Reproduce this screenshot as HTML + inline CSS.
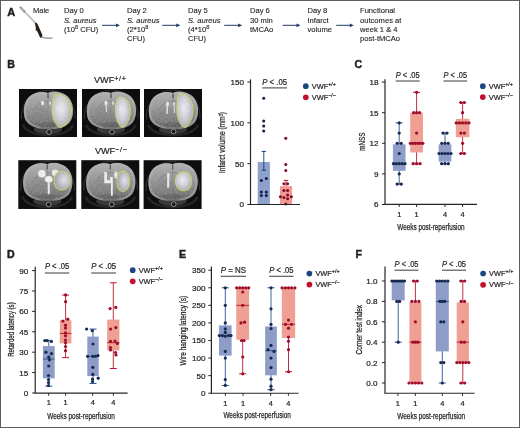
<!DOCTYPE html>
<html><head><meta charset="utf-8"><title>Figure</title>
<style>
html,body{margin:0;padding:0;background:#fff;}
body{width:520px;height:428px;overflow:hidden;}
.fig{position:relative;width:518px;height:426px;border:1px solid #5e5e5e;background:#fff;}
svg{position:absolute;left:-1px;top:-1px;filter:blur(0.3px);}
text{font-family:"Liberation Sans", sans-serif;}
.h{stroke:#231f20;stroke-width:0.22px;}
</style></head>
<body><div class="fig">
<svg width="520" height="428" viewBox="0 0 520 428" font-family="Liberation Sans, sans-serif">
<text x="7.2" y="16.3" font-size="11.0" font-weight="bold" fill="#231f20" stroke="#231f20" stroke-width="0.45">A</text>
<g>
<line x1="21" y1="8" x2="35.3" y2="22.8" stroke="#a8a8a8" stroke-width="1.7" stroke-linecap="round"/>
<line x1="22.6" y1="9.8" x2="34.6" y2="22.2" stroke="#ececec" stroke-width="0.6"/>
<line x1="20.5" y1="7.5" x2="24.5" y2="11.6" stroke="#9a9a9a" stroke-width="2.3" stroke-linecap="round"/>
<line x1="21.2" y1="8.2" x2="23.8" y2="10.9" stroke="#d0d0d0" stroke-width="0.8" stroke-linecap="round"/>
<path d="M35 22.8 L36.9 23 L38.7 26.5 L40.6 31 L42.4 35 L42 37.2 L40.2 37.8 L38.6 34.2 L37 30.8 L35.4 30.2 L36 28.6 L35.3 25.5 Z" fill="#2a1d17"/>
<path d="M41.6 37.1 Q45 38.6 52.5 38" stroke="#4a4a4a" stroke-width="0.8" fill="none"/>
</g>
<text x="33" y="13" font-size="7.5" fill="#231f20" stroke="#231f20" stroke-width="0.12">Male</text>
<text x="64" y="13" font-size="7.6" fill="#231f20" stroke="#231f20" stroke-width="0.12">Day 0</text>
<text x="64" y="22.6" font-size="7.6" fill="#231f20" stroke="#231f20" stroke-width="0.12"><tspan font-style="italic">S. aureus</tspan></text>
<text x="64" y="32.1" font-size="7.6" fill="#231f20" stroke="#231f20" stroke-width="0.12">(10<tspan dy="-3.2" font-size="5.6">8</tspan><tspan dy="3.2"> CFU)</tspan></text>
<text x="127" y="13" font-size="7.6" fill="#231f20" stroke="#231f20" stroke-width="0.12">Day 2</text>
<text x="127" y="22.6" font-size="7.6" fill="#231f20" stroke="#231f20" stroke-width="0.12"><tspan font-style="italic">S. aureus</tspan></text>
<text x="127" y="32.1" font-size="7.6" fill="#231f20" stroke="#231f20" stroke-width="0.12">(2*10<tspan dy="-3.2" font-size="5.6">8</tspan></text>
<text x="127" y="41.1" font-size="7.6" fill="#231f20" stroke="#231f20" stroke-width="0.12">CFU)</text>
<text x="188" y="13" font-size="7.6" fill="#231f20" stroke="#231f20" stroke-width="0.12">Day 5</text>
<text x="188" y="22.6" font-size="7.6" fill="#231f20" stroke="#231f20" stroke-width="0.12"><tspan font-style="italic">S. aureus</tspan></text>
<text x="188" y="32.1" font-size="7.6" fill="#231f20" stroke="#231f20" stroke-width="0.12">(4*10<tspan dy="-3.2" font-size="5.6">8</tspan></text>
<text x="188" y="41.1" font-size="7.6" fill="#231f20" stroke="#231f20" stroke-width="0.12">CFU)</text>
<text x="250" y="13" font-size="7.6" fill="#231f20" stroke="#231f20" stroke-width="0.12">Day 6</text>
<text x="250" y="22.6" font-size="7.6" fill="#231f20" stroke="#231f20" stroke-width="0.12">30 min</text>
<text x="250" y="32.1" font-size="7.6" fill="#231f20" stroke="#231f20" stroke-width="0.12">tMCAo</text>
<text x="307.5" y="13" font-size="7.6" fill="#231f20" stroke="#231f20" stroke-width="0.12">Day 8</text>
<text x="307.5" y="22.6" font-size="7.6" fill="#231f20" stroke="#231f20" stroke-width="0.12">Infarct</text>
<text x="307.5" y="32.1" font-size="7.6" fill="#231f20" stroke="#231f20" stroke-width="0.12">volume</text>
<text x="360" y="13" font-size="7.6" fill="#231f20" stroke="#231f20" stroke-width="0.12">Functional</text>
<text x="360" y="22.6" font-size="7.6" fill="#231f20" stroke="#231f20" stroke-width="0.12">outcomes at</text>
<text x="360" y="32.1" font-size="7.6" fill="#231f20" stroke="#231f20" stroke-width="0.12">week 1 &amp; 4</text>
<text x="360" y="41.1" font-size="7.6" fill="#231f20" stroke="#231f20" stroke-width="0.12">post-tMCAo</text>
<line x1="102" y1="25.3" x2="117" y2="25.3" stroke="#1f3a64" stroke-width="1"/>
<path d="M120 25.3 L116 23.4 L116 27.2 Z" fill="#1f3a64"/>
<line x1="162.3" y1="25.3" x2="177.3" y2="25.3" stroke="#1f3a64" stroke-width="1"/>
<path d="M180.3 25.3 L176.3 23.4 L176.3 27.2 Z" fill="#1f3a64"/>
<line x1="224.2" y1="25.3" x2="239.2" y2="25.3" stroke="#1f3a64" stroke-width="1"/>
<path d="M242.2 25.3 L238.2 23.4 L238.2 27.2 Z" fill="#1f3a64"/>
<line x1="282.7" y1="25.3" x2="297.5" y2="25.3" stroke="#1f3a64" stroke-width="1"/>
<path d="M300.5 25.3 L296.5 23.4 L296.5 27.2 Z" fill="#1f3a64"/>
<line x1="336.2" y1="25.3" x2="350.8" y2="25.3" stroke="#1f3a64" stroke-width="1"/>
<path d="M353.8 25.3 L349.8 23.4 L349.8 27.2 Z" fill="#1f3a64"/>
<text x="7.2" y="67.8" font-size="10.6" font-weight="bold" fill="#231f20" stroke="#231f20" stroke-width="0.45">B</text>
<text x="94" y="83.1" font-size="9.1" fill="#231f20" class="h">VWF<tspan dy="-2.5" font-size="7" letter-spacing="0.75">+/+</tspan></text>
<text x="94.9" y="154.3" font-size="9.1" fill="#231f20" class="h">VWF<tspan dy="-2.5" font-size="7" letter-spacing="0.75">&#8722;/&#8722;</tspan></text>
<defs><clipPath id="bclip"><path d="M29 4 C33 2 44 2 50 9 C55 15 55.5 26 51 33 C47 38 40 40 33 40 L26 40 C18 40 10 37 6.5 31 C3.5 24 4.5 13 10 8 C15 3 24 2 29 4 Z"/></clipPath><filter id="nz" x="0" y="0" width="1" height="1"><feTurbulence type="fractalNoise" baseFrequency="0.55" numOctaves="2" seed="3" result="t"/><feColorMatrix in="t" type="matrix" values="0 0 0 0 0.5  0 0 0 0 0.5  0 0 0 0 0.5  0.9 0 0 0 -0.25" result="n"/><feComposite in="n" in2="SourceGraphic" operator="in"/></filter><linearGradient id="bgrad" x1="0" y1="0" x2="0" y2="1"><stop offset="0" stop-color="#b0b0b0"/><stop offset="0.45" stop-color="#949494"/><stop offset="0.82" stop-color="#747474"/><stop offset="1" stop-color="#4a4a4a"/></linearGradient><radialGradient id="kgrad" cx="0.62" cy="0.45" r="0.6"><stop offset="0" stop-color="#e8e8ee"/><stop offset="0.45" stop-color="#c8c8d2"/><stop offset="1" stop-color="#a0a0aa"/></radialGradient><radialGradient id="lgrad" cx="0.45" cy="0.42" r="0.6"><stop offset="0" stop-color="#f0f0f4"/><stop offset="0.5" stop-color="#d4d4de"/><stop offset="1" stop-color="#a8a8b4"/></radialGradient></defs>
<g transform="translate(19,89) scale(1,1)">
<rect x="0" y="0" width="58" height="48" fill="#0e0e0e"/>
<path d="M2.5 30 C1 16 12 1.5 29 1.2 C46 1.5 57 14 56 30" fill="none" stroke="#333" stroke-width="1"/>
<path d="M4 36 C8 44 18 46 29 46 C40 46 50 44 54 36" fill="none" stroke="#262626" stroke-width="2.5"/>
<ellipse cx="29" cy="40.5" rx="14" ry="4.5" fill="#3a3a3a"/>
<path d="M29 4 C33 2 44 2 50 9 C55 15 55.5 26 51 33 C47 38 40 40 33 40 L26 40 C18 40 10 37 6.5 31 C3.5 24 4.5 13 10 8 C15 3 24 2 29 4 Z" fill="url(#bgrad)"/>
<g clip-path="url(#bclip)"><path d="M29 4 C33 2 44 2 50 9 C55 15 55.5 26 51 33 C47 38 40 40 33 40 L26 40 C18 40 10 37 6.5 31 C3.5 24 4.5 13 10 8 C15 3 24 2 29 4 Z" fill="none" stroke="#b4b4b4" stroke-width="4.5" opacity="0.5"/></g>
<path d="M29 4.5 L29 9" stroke="#333" stroke-width="1.2"/>
<path d="M14 22 C18 15 24 12 29 12 C34 12 40 15 44 22" fill="none" stroke="#6e6e6e" stroke-width="1" opacity="0.6"/>
<path d="M29 5 L29 38" stroke="#7c7c7c" stroke-width="0.8" opacity="0.7"/>
<ellipse cx="22" cy="26" rx="7" ry="9" fill="#7e7e7e" opacity="0.35"/>
<ellipse cx="29" cy="36.5" rx="9" ry="3.5" fill="#5a5a5a" opacity="0.6"/>
<ellipse cx="23.5" cy="14" rx="1.5" ry="2.3" fill="#efefef"/>
<ellipse cx="31" cy="14" rx="1.1" ry="2" fill="#dadada"/>
<path d="M36 6 C44 4 51 10 52.5 20 C53 28 49 35 42 38.5 C37 37.5 33.5 30 33 22 C33 14 34 8 36 6 Z" fill="url(#lgrad)"/>
<path d="M36 6 C44 4 51 10 52.5 20 C53 28 49 35 42 38.5 C37 37.5 33.5 30 33 22 C33 14 34 8 36 6 Z" fill="none" stroke="#e2e83e" stroke-width="1.1" stroke-dasharray="1.2 0.45" opacity="0.9"/>
<path d="M38 10 C44 9 49 14 49.5 21 C49.5 28 46 33 41.5 35 C38 33 36 28 36 21 C36 15 36.5 11 38 10 Z" fill="none" stroke="#d8e048" stroke-width="0.6" stroke-dasharray="0.9 0.7" opacity="0.8"/>
<circle cx="30" cy="43" r="2.4" fill="#1a1a1a" stroke="#a8a8a8" stroke-width="0.8"/>
<g clip-path="url(#bclip)"><rect x="0" y="0" width="58" height="48" fill="#808080" filter="url(#nz)" opacity="0.6"/></g>
</g>
<g transform="translate(82,89) scale(1,1)">
<rect x="0" y="0" width="58" height="48" fill="#0e0e0e"/>
<path d="M2.5 30 C1 16 12 1.5 29 1.2 C46 1.5 57 14 56 30" fill="none" stroke="#333" stroke-width="1"/>
<path d="M4 36 C8 44 18 46 29 46 C40 46 50 44 54 36" fill="none" stroke="#262626" stroke-width="2.5"/>
<ellipse cx="29" cy="40.5" rx="14" ry="4.5" fill="#3a3a3a"/>
<path d="M29 4 C33 2 44 2 50 9 C55 15 55.5 26 51 33 C47 38 40 40 33 40 L26 40 C18 40 10 37 6.5 31 C3.5 24 4.5 13 10 8 C15 3 24 2 29 4 Z" fill="url(#bgrad)"/>
<g clip-path="url(#bclip)"><path d="M29 4 C33 2 44 2 50 9 C55 15 55.5 26 51 33 C47 38 40 40 33 40 L26 40 C18 40 10 37 6.5 31 C3.5 24 4.5 13 10 8 C15 3 24 2 29 4 Z" fill="none" stroke="#b4b4b4" stroke-width="4.5" opacity="0.5"/></g>
<path d="M29 4.5 L29 9" stroke="#333" stroke-width="1.2"/>
<path d="M14 22 C18 15 24 12 29 12 C34 12 40 15 44 22" fill="none" stroke="#6e6e6e" stroke-width="1" opacity="0.6"/>
<path d="M29 5 L29 38" stroke="#7c7c7c" stroke-width="0.8" opacity="0.7"/>
<ellipse cx="22" cy="26" rx="7" ry="9" fill="#7e7e7e" opacity="0.35"/>
<ellipse cx="29" cy="36.5" rx="9" ry="3.5" fill="#5a5a5a" opacity="0.6"/>
<ellipse cx="24" cy="14" rx="1.5" ry="2.3" fill="#efefef"/>
<ellipse cx="31" cy="14" rx="1.1" ry="2" fill="#dadada"/>
<path d="M24 15 L24.5 23" stroke="#dedede" stroke-width="1.3"/>
<path d="M37 8.5 C43 7 48.5 13 48.5 22 C48.5 30 45 36 40.5 38.5 C36.5 36.5 33.5 30 33.4 22 C33.4 15 34.5 10 37 8.5 Z" fill="url(#lgrad)"/>
<path d="M37 8.5 C43 7 48.5 13 48.5 22 C48.5 30 45 36 40.5 38.5 C36.5 36.5 33.5 30 33.4 22 C33.4 15 34.5 10 37 8.5 Z" fill="none" stroke="#e2e83e" stroke-width="1.1" stroke-dasharray="1.2 0.45" opacity="0.9"/>
<circle cx="30" cy="43" r="2.4" fill="#1a1a1a" stroke="#a8a8a8" stroke-width="0.8"/>
<g clip-path="url(#bclip)"><rect x="0" y="0" width="58" height="48" fill="#808080" filter="url(#nz)" opacity="0.6"/></g>
</g>
<g transform="translate(144,89) scale(1,1)">
<rect x="0" y="0" width="58" height="48" fill="#0e0e0e"/>
<path d="M2.5 30 C1 16 12 1.5 29 1.2 C46 1.5 57 14 56 30" fill="none" stroke="#333" stroke-width="1"/>
<path d="M4 36 C8 44 18 46 29 46 C40 46 50 44 54 36" fill="none" stroke="#262626" stroke-width="2.5"/>
<ellipse cx="29" cy="40.5" rx="14" ry="4.5" fill="#3a3a3a"/>
<path d="M29 4 C33 2 44 2 50 9 C55 15 55.5 26 51 33 C47 38 40 40 33 40 L26 40 C18 40 10 37 6.5 31 C3.5 24 4.5 13 10 8 C15 3 24 2 29 4 Z" fill="url(#bgrad)"/>
<g clip-path="url(#bclip)"><path d="M29 4 C33 2 44 2 50 9 C55 15 55.5 26 51 33 C47 38 40 40 33 40 L26 40 C18 40 10 37 6.5 31 C3.5 24 4.5 13 10 8 C15 3 24 2 29 4 Z" fill="none" stroke="#b4b4b4" stroke-width="4.5" opacity="0.5"/></g>
<path d="M29 4.5 L29 9" stroke="#333" stroke-width="1.2"/>
<path d="M14 22 C18 15 24 12 29 12 C34 12 40 15 44 22" fill="none" stroke="#6e6e6e" stroke-width="1" opacity="0.6"/>
<path d="M29 5 L29 38" stroke="#7c7c7c" stroke-width="0.8" opacity="0.7"/>
<ellipse cx="22" cy="26" rx="7" ry="9" fill="#7e7e7e" opacity="0.35"/>
<ellipse cx="29" cy="36.5" rx="9" ry="3.5" fill="#5a5a5a" opacity="0.6"/>
<ellipse cx="23.5" cy="15" rx="1.5" ry="2.3" fill="#efefef"/>
<ellipse cx="30" cy="15" rx="1.1" ry="2" fill="#dadada"/>
<path d="M23.5 14 L23 25" stroke="#e6e6e6" stroke-width="1.5"/>
<path d="M30 14 L30.5 24" stroke="#d8d8d8" stroke-width="1.2"/>
<path d="M35 5 C42 4 48.5 10 49 19 C49.5 28 46 35 41 38.5 C36.5 37 33 30 32.8 21 C32.8 13 33.5 7 35 5 Z" fill="url(#lgrad)"/>
<path d="M35 5 C42 4 48.5 10 49 19 C49.5 28 46 35 41 38.5 C36.5 37 33 30 32.8 21 C32.8 13 33.5 7 35 5 Z" fill="none" stroke="#e2e83e" stroke-width="1.1" stroke-dasharray="1.2 0.45" opacity="0.9"/>
<circle cx="29.5" cy="42.5" r="2.4" fill="#1a1a1a" stroke="#a8a8a8" stroke-width="0.8"/>
<g clip-path="url(#bclip)"><rect x="0" y="0" width="58" height="48" fill="#808080" filter="url(#nz)" opacity="0.6"/></g>
</g>
<g transform="translate(18.3,160.2) scale(1,1.016)">
<rect x="0" y="0" width="58" height="48" fill="#0e0e0e"/>
<path d="M2.5 30 C1 16 12 1.5 29 1.2 C46 1.5 57 14 56 30" fill="none" stroke="#333" stroke-width="1"/>
<path d="M4 36 C8 44 18 46 29 46 C40 46 50 44 54 36" fill="none" stroke="#262626" stroke-width="2.5"/>
<ellipse cx="29" cy="40.5" rx="14" ry="4.5" fill="#3a3a3a"/>
<path d="M29 4 C33 2 44 2 50 9 C55 15 55.5 26 51 33 C47 38 40 40 33 40 L26 40 C18 40 10 37 6.5 31 C3.5 24 4.5 13 10 8 C15 3 24 2 29 4 Z" fill="url(#bgrad)"/>
<g clip-path="url(#bclip)"><path d="M29 4 C33 2 44 2 50 9 C55 15 55.5 26 51 33 C47 38 40 40 33 40 L26 40 C18 40 10 37 6.5 31 C3.5 24 4.5 13 10 8 C15 3 24 2 29 4 Z" fill="none" stroke="#b4b4b4" stroke-width="4.5" opacity="0.5"/></g>
<path d="M29 4.5 L29 9" stroke="#333" stroke-width="1.2"/>
<path d="M14 22 C18 15 24 12 29 12 C34 12 40 15 44 22" fill="none" stroke="#6e6e6e" stroke-width="1" opacity="0.6"/>
<path d="M29 5 L29 38" stroke="#7c7c7c" stroke-width="0.8" opacity="0.7"/>
<ellipse cx="22" cy="26" rx="7" ry="9" fill="#7e7e7e" opacity="0.35"/>
<ellipse cx="29" cy="36.5" rx="9" ry="3.5" fill="#5a5a5a" opacity="0.6"/>
<circle cx="23.6" cy="13.3" r="3.7" fill="#f6f6f6"/>
<circle cx="36.8" cy="12.3" r="3.2" fill="#efefef"/>
<ellipse cx="30.4" cy="18.8" rx="3.8" ry="3.2" fill="#f8f8f8"/>
<rect x="29.4" y="20" width="2.1" height="13.5" fill="#eeeeee"/>
<path d="M42 11 C48 10 52 14.5 52 20 C52 26 48 29.5 43 29.4 C38 29 35.8 25 35.8 20 C35.8 15 38 11.5 42 11 Z" fill="url(#kgrad)"/>
<path d="M42 11 C48 10 52 14.5 52 20 C52 26 48 29.5 43 29.4 C38 29 35.8 25 35.8 20 C35.8 15 38 11.5 42 11 Z" fill="none" stroke="#e2e83e" stroke-width="1.1" stroke-dasharray="1.2 0.45" opacity="0.9"/>
<circle cx="30.4" cy="43.5" r="2.4" fill="#1a1a1a" stroke="#a8a8a8" stroke-width="0.8"/>
<g clip-path="url(#bclip)"><rect x="0" y="0" width="58" height="48" fill="#808080" filter="url(#nz)" opacity="0.6"/></g>
</g>
<g transform="translate(81.3,160.2) scale(1,1.016)">
<rect x="0" y="0" width="58" height="48" fill="#0e0e0e"/>
<path d="M2.5 30 C1 16 12 1.5 29 1.2 C46 1.5 57 14 56 30" fill="none" stroke="#333" stroke-width="1"/>
<path d="M4 36 C8 44 18 46 29 46 C40 46 50 44 54 36" fill="none" stroke="#262626" stroke-width="2.5"/>
<ellipse cx="29" cy="40.5" rx="14" ry="4.5" fill="#3a3a3a"/>
<path d="M29 4 C33 2 44 2 50 9 C55 15 55.5 26 51 33 C47 38 40 40 33 40 L26 40 C18 40 10 37 6.5 31 C3.5 24 4.5 13 10 8 C15 3 24 2 29 4 Z" fill="url(#bgrad)"/>
<g clip-path="url(#bclip)"><path d="M29 4 C33 2 44 2 50 9 C55 15 55.5 26 51 33 C47 38 40 40 33 40 L26 40 C18 40 10 37 6.5 31 C3.5 24 4.5 13 10 8 C15 3 24 2 29 4 Z" fill="none" stroke="#b4b4b4" stroke-width="4.5" opacity="0.5"/></g>
<path d="M29 4.5 L29 9" stroke="#333" stroke-width="1.2"/>
<path d="M14 22 C18 15 24 12 29 12 C34 12 40 15 44 22" fill="none" stroke="#6e6e6e" stroke-width="1" opacity="0.6"/>
<path d="M29 5 L29 38" stroke="#7c7c7c" stroke-width="0.8" opacity="0.7"/>
<ellipse cx="22" cy="26" rx="7" ry="9" fill="#7e7e7e" opacity="0.35"/>
<ellipse cx="29" cy="36.5" rx="9" ry="3.5" fill="#5a5a5a" opacity="0.6"/>
<path d="M23 11.5 L25.6 11.5 L25.6 19.5 L28.5 20 L29 16.5 L31.5 16.5 L31.5 35 L29.6 35 L29.6 22.8 L23 22.8 Z" fill="#f4f4f4"/>
<ellipse cx="34.6" cy="14.5" rx="1.8" ry="3.4" fill="#e8e8e8"/>
<path d="M41.5 11 C46 11 48.2 15 48.2 21 C48.2 27 45 30.8 41.5 30.8 C37.8 30.8 35.5 26.5 35.5 21 C35.5 15 37.5 11 41.5 11 Z" fill="url(#kgrad)"/>
<path d="M41.5 11 C46 11 48.2 15 48.2 21 C48.2 27 45 30.8 41.5 30.8 C37.8 30.8 35.5 26.5 35.5 21 C35.5 15 37.5 11 41.5 11 Z" fill="none" stroke="#e2e83e" stroke-width="1.1" stroke-dasharray="1.2 0.45" opacity="0.9"/>
<circle cx="30.4" cy="43.5" r="2.4" fill="#1a1a1a" stroke="#a8a8a8" stroke-width="0.8"/>
<g clip-path="url(#bclip)"><rect x="0" y="0" width="58" height="48" fill="#808080" filter="url(#nz)" opacity="0.6"/></g>
</g>
<g transform="translate(143.6,160.2) scale(1,1.016)">
<rect x="0" y="0" width="58" height="48" fill="#0e0e0e"/>
<path d="M2.5 30 C1 16 12 1.5 29 1.2 C46 1.5 57 14 56 30" fill="none" stroke="#333" stroke-width="1"/>
<path d="M4 36 C8 44 18 46 29 46 C40 46 50 44 54 36" fill="none" stroke="#262626" stroke-width="2.5"/>
<ellipse cx="29" cy="40.5" rx="14" ry="4.5" fill="#3a3a3a"/>
<path d="M29 4 C33 2 44 2 50 9 C55 15 55.5 26 51 33 C47 38 40 40 33 40 L26 40 C18 40 10 37 6.5 31 C3.5 24 4.5 13 10 8 C15 3 24 2 29 4 Z" fill="url(#bgrad)"/>
<g clip-path="url(#bclip)"><path d="M29 4 C33 2 44 2 50 9 C55 15 55.5 26 51 33 C47 38 40 40 33 40 L26 40 C18 40 10 37 6.5 31 C3.5 24 4.5 13 10 8 C15 3 24 2 29 4 Z" fill="none" stroke="#b4b4b4" stroke-width="4.5" opacity="0.5"/></g>
<path d="M29 4.5 L29 9" stroke="#333" stroke-width="1.2"/>
<path d="M14 22 C18 15 24 12 29 12 C34 12 40 15 44 22" fill="none" stroke="#6e6e6e" stroke-width="1" opacity="0.6"/>
<path d="M29 5 L29 38" stroke="#7c7c7c" stroke-width="0.8" opacity="0.7"/>
<ellipse cx="22" cy="26" rx="7" ry="9" fill="#7e7e7e" opacity="0.35"/>
<ellipse cx="29" cy="36.5" rx="9" ry="3.5" fill="#5a5a5a" opacity="0.6"/>
<path d="M23.5 12.5 L26 12.5 L25.5 27 L23.5 27 Z" fill="#ebebeb"/>
<path d="M40 11.5 C45 11.5 48 15 48 21 C48 26.5 45 30 40 30 C35 30 31.9 26 31.9 21 C31.9 15.5 35 11.5 40 11.5 Z" fill="url(#lgrad)"/>
<path d="M40 11.5 C45 11.5 48 15 48 21 C48 26.5 45 30 40 30 C35 30 31.9 26 31.9 21 C31.9 15.5 35 11.5 40 11.5 Z" fill="none" stroke="#e2e83e" stroke-width="1.1" stroke-dasharray="1.2 0.45" opacity="0.9"/>
<circle cx="30.1" cy="43.3" r="2.4" fill="#1a1a1a" stroke="#a8a8a8" stroke-width="0.8"/>
<g clip-path="url(#bclip)"><rect x="0" y="0" width="58" height="48" fill="#808080" filter="url(#nz)" opacity="0.6"/></g>
</g>
<text transform="translate(225.2,142.5) rotate(-90)" x="0" y="0" font-size="8.6" text-anchor="middle" textLength="61" lengthAdjust="spacingAndGlyphs" fill="#231f20" stroke="#231f20" stroke-width="0.25">Infarct volume (mm<tspan dy="-2.5" font-size="5">3</tspan><tspan dy="2.5">)</tspan></text>
<line x1="250.5" y1="79.3" x2="250.5" y2="204.5" stroke="#262626" stroke-width="1.2"/>
<line x1="247.4" y1="82.0" x2="250.5" y2="82.0" stroke="#262626" stroke-width="1"/>
<text x="244" y="84.9" font-size="8.1" text-anchor="end" fill="#231f20" class="h">150</text>
<line x1="247.4" y1="122.83333333333333" x2="250.5" y2="122.83333333333333" stroke="#262626" stroke-width="1"/>
<text x="244" y="125.73333333333333" font-size="8.1" text-anchor="end" fill="#231f20" class="h">100</text>
<line x1="247.4" y1="163.66666666666666" x2="250.5" y2="163.66666666666666" stroke="#262626" stroke-width="1"/>
<text x="244" y="166.56666666666666" font-size="8.1" text-anchor="end" fill="#231f20" class="h">50</text>
<line x1="247.4" y1="204.5" x2="250.5" y2="204.5" stroke="#262626" stroke-width="1"/>
<text x="244" y="207.4" font-size="8.1" text-anchor="end" fill="#231f20" class="h">0</text>
<text class="h" x="262.3" y="84.6" font-size="8.4" textLength="24.69999999999999" lengthAdjust="spacingAndGlyphs" fill="#231f20"><tspan font-style="italic">P</tspan> &lt; .05</text>
<line x1="262.3" y1="87.9" x2="287" y2="87.9" stroke="#5a5a5a" stroke-width="1.2"/>
<rect x="257.7" y="162.03333333333333" width="12.2" height="42.46666666666667" fill="#8ea0cc"/>
<rect x="280" y="186.125" width="12.1" height="18.375" fill="#f19a94"/>
<line x1="263.8" y1="162.03333333333333" x2="263.8" y2="151.41666666666666" stroke="#173f75" stroke-width="0.9"/>
<line x1="261.6" y1="151.41666666666666" x2="266" y2="151.41666666666666" stroke="#173f75" stroke-width="1"/>
<line x1="263.8" y1="162.03333333333333" x2="263.8" y2="170.2" stroke="#173f75" stroke-width="0.9"/>
<line x1="261.6" y1="170.2" x2="266" y2="170.2" stroke="#173f75" stroke-width="1"/>
<line x1="286" y1="186.125" x2="286" y2="180.40833333333333" stroke="#b8102a" stroke-width="0.9"/>
<line x1="283.8" y1="180.40833333333333" x2="288.2" y2="180.40833333333333" stroke="#b8102a" stroke-width="1"/>
<circle cx="263.70" cy="98.30" r="1.5" fill="#131d40"/>
<circle cx="263.70" cy="121.10" r="1.5" fill="#131d40"/>
<circle cx="263.70" cy="126.00" r="1.5" fill="#131d40"/>
<circle cx="263.70" cy="131.10" r="1.5" fill="#131d40"/>
<circle cx="261.40" cy="180.40" r="1.5" fill="#131d40"/>
<circle cx="266.40" cy="178.60" r="1.5" fill="#131d40"/>
<circle cx="261.30" cy="192.10" r="1.5" fill="#131d40"/>
<circle cx="266.30" cy="192.10" r="1.5" fill="#131d40"/>
<circle cx="261.30" cy="195.60" r="1.5" fill="#131d40"/>
<circle cx="266.30" cy="195.60" r="1.5" fill="#131d40"/>
<circle cx="285.80" cy="138.30" r="1.5" fill="#7a0c24"/>
<circle cx="285.80" cy="164.50" r="1.5" fill="#7a0c24"/>
<circle cx="285.80" cy="170.50" r="1.5" fill="#7a0c24"/>
<circle cx="283.90" cy="183.70" r="1.5" fill="#7a0c24"/>
<circle cx="287.60" cy="183.70" r="1.5" fill="#7a0c24"/>
<circle cx="283.90" cy="190.60" r="1.5" fill="#7a0c24"/>
<circle cx="287.60" cy="190.60" r="1.5" fill="#7a0c24"/>
<circle cx="280.40" cy="196.80" r="1.5" fill="#7a0c24"/>
<circle cx="283.90" cy="197.60" r="1.5" fill="#7a0c24"/>
<circle cx="287.60" cy="195.10" r="1.5" fill="#7a0c24"/>
<circle cx="287.60" cy="198.80" r="1.5" fill="#7a0c24"/>
<circle cx="291.30" cy="196.80" r="1.5" fill="#7a0c24"/>
<circle cx="285.80" cy="204.00" r="1.5" fill="#7a0c24"/>
<line x1="249.9" y1="204.5" x2="300" y2="204.5" stroke="#262626" stroke-width="1.2"/>
<circle cx="305.80" cy="86.20" r="2.85" fill="#1c4680"/>
<circle cx="305.80" cy="97.30" r="2.85" fill="#c2102e"/>
<text x="311.8" y="88.7" font-size="7.4" fill="#231f20" class="h">VWF<tspan dy="-2.8" font-size="5.4">+/+</tspan></text>
<text x="311.8" y="99.8" font-size="7.4" fill="#231f20" class="h">VWF<tspan dy="-2.8" font-size="5.4">&#8722;/&#8722;</tspan></text>
<text x="354.4" y="68.2" font-size="10.6" font-weight="bold" fill="#231f20" stroke="#231f20" stroke-width="0.45">C</text>
<text transform="translate(364.9,141.7) rotate(-90)" x="0" y="0" font-size="9.6" text-anchor="middle" textLength="18.3" lengthAdjust="spacingAndGlyphs" fill="#231f20" stroke="#231f20" stroke-width="0.25">mNSS</text>
<line x1="385" y1="79.3" x2="385" y2="204.5" stroke="#262626" stroke-width="1.2"/>
<line x1="381.9" y1="82.10000000000001" x2="385" y2="82.10000000000001" stroke="#262626" stroke-width="1"/>
<text x="378.6" y="85.00000000000001" font-size="8.1" text-anchor="end" fill="#231f20" class="h">18</text>
<line x1="381.9" y1="112.7" x2="385" y2="112.7" stroke="#262626" stroke-width="1"/>
<text x="378.6" y="115.60000000000001" font-size="8.1" text-anchor="end" fill="#231f20" class="h">15</text>
<line x1="381.9" y1="143.3" x2="385" y2="143.3" stroke="#262626" stroke-width="1"/>
<text x="378.6" y="146.20000000000002" font-size="8.1" text-anchor="end" fill="#231f20" class="h">12</text>
<line x1="381.9" y1="173.9" x2="385" y2="173.9" stroke="#262626" stroke-width="1"/>
<text x="378.6" y="176.8" font-size="8.1" text-anchor="end" fill="#231f20" class="h">9</text>
<line x1="381.9" y1="204.5" x2="385" y2="204.5" stroke="#262626" stroke-width="1"/>
<text x="378.6" y="207.4" font-size="8.1" text-anchor="end" fill="#231f20" class="h">6</text>
<text class="h" x="395.7" y="77.5" font-size="8.4" textLength="24.0" lengthAdjust="spacingAndGlyphs" fill="#231f20"><tspan font-style="italic">P</tspan> &lt; .05</text>
<line x1="395.7" y1="81" x2="419.7" y2="81" stroke="#5a5a5a" stroke-width="1.2"/>
<text class="h" x="443.5" y="77.5" font-size="8.4" textLength="23.5" lengthAdjust="spacingAndGlyphs" fill="#231f20"><tspan font-style="italic">P</tspan> &lt; .05</text>
<line x1="443.5" y1="81" x2="467" y2="81" stroke="#5a5a5a" stroke-width="1.2"/>
<line x1="399.2" y1="122.9" x2="399.2" y2="184.1" stroke="#2a5590" stroke-width="0.9"/>
<line x1="395.7" y1="122.9" x2="402.7" y2="122.9" stroke="#2a5590" stroke-width="1"/>
<line x1="395.7" y1="184.1" x2="402.7" y2="184.1" stroke="#2a5590" stroke-width="1"/>
<rect x="392.9" y="144.32" width="12.6" height="26.52000000000001" fill="#8e9cc8"/>
<line x1="392.9" y1="163.7" x2="405.5" y2="163.7" stroke="#2a5590" stroke-width="0.9"/>
<circle cx="399.20" cy="122.90" r="1.6" fill="#162a52"/>
<circle cx="399.20" cy="133.10" r="1.6" fill="#162a52"/>
<circle cx="397.20" cy="143.30" r="1.6" fill="#162a52"/>
<circle cx="401.20" cy="143.30" r="1.6" fill="#162a52"/>
<circle cx="399.20" cy="153.50" r="1.6" fill="#162a52"/>
<circle cx="393.40" cy="163.70" r="1.6" fill="#162a52"/>
<circle cx="396.30" cy="163.70" r="1.6" fill="#162a52"/>
<circle cx="399.20" cy="163.70" r="1.6" fill="#162a52"/>
<circle cx="402.10" cy="163.70" r="1.6" fill="#162a52"/>
<circle cx="405.00" cy="163.70" r="1.6" fill="#162a52"/>
<circle cx="399.20" cy="173.90" r="1.6" fill="#162a52"/>
<circle cx="397.20" cy="184.10" r="1.6" fill="#162a52"/>
<circle cx="401.20" cy="184.10" r="1.6" fill="#162a52"/>
<line x1="416.6" y1="92.30000000000001" x2="416.6" y2="163.7" stroke="#c0152f" stroke-width="0.9"/>
<line x1="413.1" y1="92.30000000000001" x2="420.1" y2="92.30000000000001" stroke="#c0152f" stroke-width="1"/>
<line x1="413.1" y1="163.7" x2="420.1" y2="163.7" stroke="#c0152f" stroke-width="1"/>
<rect x="410.20000000000005" y="112.7" width="12.8" height="39.780000000000015" fill="#f0a092"/>
<line x1="410.20000000000005" y1="143.3" x2="423.0" y2="143.3" stroke="#c0152f" stroke-width="0.9"/>
<circle cx="416.60" cy="92.30" r="1.6" fill="#9c0e2c"/>
<circle cx="413.60" cy="112.70" r="1.6" fill="#9c0e2c"/>
<circle cx="416.60" cy="112.70" r="1.6" fill="#9c0e2c"/>
<circle cx="419.60" cy="112.70" r="1.6" fill="#9c0e2c"/>
<circle cx="416.60" cy="133.10" r="1.6" fill="#9c0e2c"/>
<circle cx="410.35" cy="143.30" r="1.6" fill="#9c0e2c"/>
<circle cx="412.85" cy="143.30" r="1.6" fill="#9c0e2c"/>
<circle cx="415.35" cy="143.30" r="1.6" fill="#9c0e2c"/>
<circle cx="417.85" cy="143.30" r="1.6" fill="#9c0e2c"/>
<circle cx="420.35" cy="143.30" r="1.6" fill="#9c0e2c"/>
<circle cx="422.85" cy="143.30" r="1.6" fill="#9c0e2c"/>
<circle cx="413.10" cy="163.70" r="1.6" fill="#9c0e2c"/>
<circle cx="416.60" cy="163.70" r="1.6" fill="#9c0e2c"/>
<circle cx="420.10" cy="163.70" r="1.6" fill="#9c0e2c"/>
<line x1="445" y1="133.10000000000002" x2="445" y2="163.7" stroke="#2a5590" stroke-width="0.9"/>
<line x1="441.5" y1="133.10000000000002" x2="448.5" y2="133.10000000000002" stroke="#2a5590" stroke-width="1"/>
<line x1="441.5" y1="163.7" x2="448.5" y2="163.7" stroke="#2a5590" stroke-width="1"/>
<rect x="438.65" y="144.32" width="12.7" height="17.340000000000032" fill="#8e9cc8"/>
<line x1="438.65" y1="153.5" x2="451.35" y2="153.5" stroke="#2a5590" stroke-width="0.9"/>
<circle cx="443.10" cy="133.10" r="1.6" fill="#162a52"/>
<circle cx="446.90" cy="133.10" r="1.6" fill="#162a52"/>
<circle cx="441.80" cy="143.30" r="1.6" fill="#162a52"/>
<circle cx="445.00" cy="143.30" r="1.6" fill="#162a52"/>
<circle cx="448.20" cy="143.30" r="1.6" fill="#162a52"/>
<circle cx="439.00" cy="153.50" r="1.6" fill="#162a52"/>
<circle cx="442.00" cy="153.50" r="1.6" fill="#162a52"/>
<circle cx="445.00" cy="153.50" r="1.6" fill="#162a52"/>
<circle cx="448.00" cy="153.50" r="1.6" fill="#162a52"/>
<circle cx="451.00" cy="153.50" r="1.6" fill="#162a52"/>
<circle cx="441.60" cy="163.70" r="1.6" fill="#162a52"/>
<circle cx="445.00" cy="163.70" r="1.6" fill="#162a52"/>
<circle cx="448.40" cy="163.70" r="1.6" fill="#162a52"/>
<line x1="462.6" y1="102.5" x2="462.6" y2="153.5" stroke="#c0152f" stroke-width="0.9"/>
<line x1="459.1" y1="102.5" x2="466.1" y2="102.5" stroke="#c0152f" stroke-width="1"/>
<line x1="459.1" y1="153.5" x2="466.1" y2="153.5" stroke="#c0152f" stroke-width="1"/>
<rect x="455.85" y="118.82000000000001" width="13.5" height="18.36" fill="#f0a092"/>
<line x1="455.85" y1="122.9" x2="469.35" y2="122.9" stroke="#c0152f" stroke-width="0.9"/>
<circle cx="460.85" cy="102.50" r="1.6" fill="#9c0e2c"/>
<circle cx="464.35" cy="102.50" r="1.6" fill="#9c0e2c"/>
<circle cx="462.60" cy="112.70" r="1.6" fill="#9c0e2c"/>
<circle cx="456.20" cy="122.90" r="1.6" fill="#9c0e2c"/>
<circle cx="459.40" cy="122.90" r="1.6" fill="#9c0e2c"/>
<circle cx="462.60" cy="122.90" r="1.6" fill="#9c0e2c"/>
<circle cx="465.80" cy="122.90" r="1.6" fill="#9c0e2c"/>
<circle cx="469.00" cy="122.90" r="1.6" fill="#9c0e2c"/>
<circle cx="460.85" cy="133.10" r="1.6" fill="#9c0e2c"/>
<circle cx="464.35" cy="133.10" r="1.6" fill="#9c0e2c"/>
<circle cx="462.60" cy="143.30" r="1.6" fill="#9c0e2c"/>
<circle cx="460.85" cy="153.50" r="1.6" fill="#9c0e2c"/>
<circle cx="464.35" cy="153.50" r="1.6" fill="#9c0e2c"/>
<line x1="384.45" y1="204.4" x2="477" y2="204.4" stroke="#262626" stroke-width="1.1"/>
<line x1="399.2" y1="204.4" x2="399.2" y2="207.0" stroke="#262626" stroke-width="1"/>
<text x="399.2" y="216.6" font-size="7.4" text-anchor="middle" fill="#231f20" class="h">1</text>
<line x1="416.6" y1="204.4" x2="416.6" y2="207.0" stroke="#262626" stroke-width="1"/>
<text x="416.6" y="216.6" font-size="7.4" text-anchor="middle" fill="#231f20" class="h">1</text>
<line x1="445" y1="204.4" x2="445" y2="207.0" stroke="#262626" stroke-width="1"/>
<text x="445" y="216.6" font-size="7.4" text-anchor="middle" fill="#231f20" class="h">4</text>
<line x1="462.6" y1="204.4" x2="462.6" y2="207.0" stroke="#262626" stroke-width="1"/>
<text x="462.6" y="216.6" font-size="7.4" text-anchor="middle" fill="#231f20" class="h">4</text>
<text x="430.95000000000005" y="229.6" font-size="9.2" text-anchor="middle" textLength="67.30000000000001" lengthAdjust="spacingAndGlyphs" fill="#231f20" stroke="#231f20" stroke-width="0.25">Weeks post-reperfusion</text>
<circle cx="482.80" cy="86.20" r="2.85" fill="#1c4680"/>
<circle cx="482.80" cy="97.10" r="2.85" fill="#c2102e"/>
<text x="488.8" y="88.7" font-size="7.4" fill="#231f20" class="h">VWF<tspan dy="-2.8" font-size="5.4">+/+</tspan></text>
<text x="488.8" y="99.6" font-size="7.4" fill="#231f20" class="h">VWF<tspan dy="-2.8" font-size="5.4">&#8722;/&#8722;</tspan></text>
<text x="7.1" y="257.7" font-size="10.6" font-weight="bold" fill="#231f20" stroke="#231f20" stroke-width="0.45">D</text>
<text transform="translate(14.2,329.6) rotate(-90)" x="0" y="0" font-size="8.6" text-anchor="middle" textLength="54.5" lengthAdjust="spacingAndGlyphs" fill="#231f20" stroke="#231f20" stroke-width="0.25">Retarded latency (s)</text>
<line x1="35.2" y1="266.8" x2="35.2" y2="393" stroke="#262626" stroke-width="1.2"/>
<line x1="32.1" y1="270.6" x2="35.2" y2="270.6" stroke="#262626" stroke-width="1"/>
<text x="28.3" y="273.5" font-size="8.1" text-anchor="end" fill="#231f20" class="h">90</text>
<line x1="32.1" y1="291.0" x2="35.2" y2="291.0" stroke="#262626" stroke-width="1"/>
<text x="28.3" y="293.9" font-size="8.1" text-anchor="end" fill="#231f20" class="h">75</text>
<line x1="32.1" y1="311.4" x2="35.2" y2="311.4" stroke="#262626" stroke-width="1"/>
<text x="28.3" y="314.29999999999995" font-size="8.1" text-anchor="end" fill="#231f20" class="h">60</text>
<line x1="32.1" y1="331.8" x2="35.2" y2="331.8" stroke="#262626" stroke-width="1"/>
<text x="28.3" y="334.7" font-size="8.1" text-anchor="end" fill="#231f20" class="h">45</text>
<line x1="32.1" y1="352.2" x2="35.2" y2="352.2" stroke="#262626" stroke-width="1"/>
<text x="28.3" y="355.09999999999997" font-size="8.1" text-anchor="end" fill="#231f20" class="h">30</text>
<line x1="32.1" y1="372.6" x2="35.2" y2="372.6" stroke="#262626" stroke-width="1"/>
<text x="28.3" y="375.5" font-size="8.1" text-anchor="end" fill="#231f20" class="h">15</text>
<line x1="32.1" y1="393.0" x2="35.2" y2="393.0" stroke="#262626" stroke-width="1"/>
<text x="28.3" y="395.9" font-size="8.1" text-anchor="end" fill="#231f20" class="h">0</text>
<text class="h" x="44.9" y="269.2" font-size="8.4" textLength="24.300000000000004" lengthAdjust="spacingAndGlyphs" fill="#231f20"><tspan font-style="italic">P</tspan> &lt; .05</text>
<line x1="44.9" y1="273" x2="69.2" y2="273" stroke="#5a5a5a" stroke-width="1.2"/>
<text class="h" x="91.3" y="269.2" font-size="8.4" textLength="24.700000000000003" lengthAdjust="spacingAndGlyphs" fill="#231f20"><tspan font-style="italic">P</tspan> &lt; .05</text>
<line x1="91.3" y1="273" x2="116" y2="273" stroke="#5a5a5a" stroke-width="1.2"/>
<line x1="48.8" y1="340.368" x2="48.8" y2="386.2" stroke="#2a5590" stroke-width="0.9"/>
<line x1="45.3" y1="340.368" x2="52.3" y2="340.368" stroke="#2a5590" stroke-width="1"/>
<line x1="45.3" y1="386.2" x2="52.3" y2="386.2" stroke="#2a5590" stroke-width="1"/>
<rect x="42.9" y="346.08" width="11.8" height="32.23200000000003" fill="#8e9cc8"/>
<line x1="42.9" y1="359.0" x2="54.699999999999996" y2="359.0" stroke="#2a5590" stroke-width="0.9"/>
<circle cx="44.80" cy="340.60" r="1.6" fill="#162a52"/>
<circle cx="47.10" cy="340.60" r="1.6" fill="#162a52"/>
<circle cx="51.40" cy="341.50" r="1.6" fill="#162a52"/>
<circle cx="45.90" cy="352.20" r="1.6" fill="#162a52"/>
<circle cx="51.50" cy="353.60" r="1.6" fill="#162a52"/>
<circle cx="48.80" cy="357.20" r="1.6" fill="#162a52"/>
<circle cx="49.50" cy="359.80" r="1.6" fill="#162a52"/>
<circle cx="48.70" cy="366.00" r="1.6" fill="#162a52"/>
<circle cx="48.50" cy="375.50" r="1.6" fill="#162a52"/>
<circle cx="48.50" cy="379.50" r="1.6" fill="#162a52"/>
<circle cx="48.50" cy="382.50" r="1.6" fill="#162a52"/>
<circle cx="48.50" cy="385.50" r="1.6" fill="#162a52"/>
<line x1="65.6" y1="295.08" x2="65.6" y2="357.64" stroke="#c0152f" stroke-width="0.9"/>
<line x1="62.099999999999994" y1="295.08" x2="69.1" y2="295.08" stroke="#c0152f" stroke-width="1"/>
<line x1="62.099999999999994" y1="357.64" x2="69.1" y2="357.64" stroke="#c0152f" stroke-width="1"/>
<rect x="59.8" y="320.24" width="11.6" height="23.120000000000005" fill="#f0a092"/>
<line x1="59.8" y1="333.432" x2="71.39999999999999" y2="333.432" stroke="#c0152f" stroke-width="0.9"/>
<circle cx="65.60" cy="294.90" r="1.6" fill="#9c0e2c"/>
<circle cx="65.60" cy="301.70" r="1.6" fill="#9c0e2c"/>
<circle cx="62.90" cy="321.10" r="1.6" fill="#9c0e2c"/>
<circle cx="67.80" cy="319.20" r="1.6" fill="#9c0e2c"/>
<circle cx="65.50" cy="325.20" r="1.6" fill="#9c0e2c"/>
<circle cx="65.50" cy="328.10" r="1.6" fill="#9c0e2c"/>
<circle cx="65.50" cy="332.90" r="1.6" fill="#9c0e2c"/>
<circle cx="65.50" cy="335.80" r="1.6" fill="#9c0e2c"/>
<circle cx="65.50" cy="340.00" r="1.6" fill="#9c0e2c"/>
<circle cx="65.50" cy="342.80" r="1.6" fill="#9c0e2c"/>
<circle cx="65.50" cy="346.50" r="1.6" fill="#9c0e2c"/>
<circle cx="65.50" cy="350.70" r="1.6" fill="#9c0e2c"/>
<line x1="93" y1="329.08" x2="93" y2="383.48" stroke="#2a5590" stroke-width="0.9"/>
<line x1="89.5" y1="329.08" x2="96.5" y2="329.08" stroke="#2a5590" stroke-width="1"/>
<line x1="89.5" y1="383.48" x2="96.5" y2="383.48" stroke="#2a5590" stroke-width="1"/>
<rect x="87.3" y="336.56" width="11.4" height="39.57600000000002" fill="#8e9cc8"/>
<line x1="87.3" y1="356.28" x2="98.7" y2="356.28" stroke="#2a5590" stroke-width="0.9"/>
<circle cx="86.60" cy="329.00" r="1.6" fill="#162a52"/>
<circle cx="92.30" cy="330.60" r="1.6" fill="#162a52"/>
<circle cx="93.00" cy="344.00" r="1.6" fill="#162a52"/>
<circle cx="87.60" cy="356.30" r="1.6" fill="#162a52"/>
<circle cx="92.80" cy="356.30" r="1.6" fill="#162a52"/>
<circle cx="95.50" cy="356.30" r="1.6" fill="#162a52"/>
<circle cx="98.00" cy="355.50" r="1.6" fill="#162a52"/>
<circle cx="92.80" cy="367.30" r="1.6" fill="#162a52"/>
<circle cx="92.80" cy="374.40" r="1.6" fill="#162a52"/>
<circle cx="92.50" cy="379.00" r="1.6" fill="#162a52"/>
<circle cx="98.20" cy="378.20" r="1.6" fill="#162a52"/>
<circle cx="92.50" cy="381.50" r="1.6" fill="#162a52"/>
<line x1="113.3" y1="282.84" x2="113.3" y2="368.52" stroke="#c0152f" stroke-width="0.9"/>
<line x1="109.8" y1="282.84" x2="116.8" y2="282.84" stroke="#c0152f" stroke-width="1"/>
<line x1="109.8" y1="368.52" x2="116.8" y2="368.52" stroke="#c0152f" stroke-width="1"/>
<rect x="107.2" y="319.56" width="12.2" height="30.872000000000014" fill="#f0a092"/>
<line x1="107.2" y1="342.68" x2="119.39999999999999" y2="342.68" stroke="#c0152f" stroke-width="0.9"/>
<circle cx="110.10" cy="308.60" r="1.6" fill="#9c0e2c"/>
<circle cx="115.80" cy="307.40" r="1.6" fill="#9c0e2c"/>
<circle cx="110.60" cy="329.00" r="1.6" fill="#9c0e2c"/>
<circle cx="115.80" cy="327.60" r="1.6" fill="#9c0e2c"/>
<circle cx="110.50" cy="341.40" r="1.6" fill="#9c0e2c"/>
<circle cx="115.00" cy="341.00" r="1.6" fill="#9c0e2c"/>
<circle cx="117.30" cy="343.40" r="1.6" fill="#9c0e2c"/>
<circle cx="110.50" cy="347.50" r="1.6" fill="#9c0e2c"/>
<circle cx="110.50" cy="350.00" r="1.6" fill="#9c0e2c"/>
<circle cx="115.60" cy="352.50" r="1.6" fill="#9c0e2c"/>
<circle cx="116.00" cy="355.00" r="1.6" fill="#9c0e2c"/>
<line x1="34.650000000000006" y1="393.1" x2="127.6" y2="393.1" stroke="#262626" stroke-width="1.1"/>
<line x1="48.7" y1="393.1" x2="48.7" y2="395.70000000000005" stroke="#262626" stroke-width="1"/>
<text x="48.7" y="405.4" font-size="7.4" text-anchor="middle" fill="#231f20" class="h">1</text>
<line x1="65.6" y1="393.1" x2="65.6" y2="395.70000000000005" stroke="#262626" stroke-width="1"/>
<text x="65.6" y="405.4" font-size="7.4" text-anchor="middle" fill="#231f20" class="h">1</text>
<line x1="92.7" y1="393.1" x2="92.7" y2="395.70000000000005" stroke="#262626" stroke-width="1"/>
<text x="92.7" y="405.4" font-size="7.4" text-anchor="middle" fill="#231f20" class="h">4</text>
<line x1="113.4" y1="393.1" x2="113.4" y2="395.70000000000005" stroke="#262626" stroke-width="1"/>
<text x="113.4" y="405.4" font-size="7.4" text-anchor="middle" fill="#231f20" class="h">4</text>
<text x="81.05000000000001" y="419.1" font-size="9.2" text-anchor="middle" textLength="67.7" lengthAdjust="spacingAndGlyphs" fill="#231f20" stroke="#231f20" stroke-width="0.25">Weeks post-reperfusion</text>
<circle cx="132.70" cy="270.20" r="2.85" fill="#1c4680"/>
<circle cx="132.70" cy="281.30" r="2.85" fill="#c2102e"/>
<text x="138.7" y="272.7" font-size="7.4" fill="#231f20" class="h">VWF<tspan dy="-2.8" font-size="5.4">+/+</tspan></text>
<text x="138.7" y="283.8" font-size="7.4" fill="#231f20" class="h">VWF<tspan dy="-2.8" font-size="5.4">&#8722;/&#8722;</tspan></text>
<text x="178.9" y="257.7" font-size="10.6" font-weight="bold" fill="#231f20" stroke="#231f20" stroke-width="0.45">E</text>
<text transform="translate(185.7,330.6) rotate(-90)" x="0" y="0" font-size="8.6" text-anchor="middle" textLength="69.7" lengthAdjust="spacingAndGlyphs" fill="#231f20" stroke="#231f20" stroke-width="0.25">Wire hanging latency (s)</text>
<line x1="211.4" y1="266.6" x2="211.4" y2="393.2" stroke="#262626" stroke-width="1.2"/>
<line x1="208.3" y1="270.21" x2="211.4" y2="270.21" stroke="#262626" stroke-width="1"/>
<text x="205.4" y="273.10999999999996" font-size="8.1" text-anchor="end" fill="#231f20" class="h">350</text>
<line x1="208.3" y1="287.78" x2="211.4" y2="287.78" stroke="#262626" stroke-width="1"/>
<text x="205.4" y="290.67999999999995" font-size="8.1" text-anchor="end" fill="#231f20" class="h">300</text>
<line x1="208.3" y1="305.35" x2="211.4" y2="305.35" stroke="#262626" stroke-width="1"/>
<text x="205.4" y="308.25" font-size="8.1" text-anchor="end" fill="#231f20" class="h">250</text>
<line x1="208.3" y1="322.91999999999996" x2="211.4" y2="322.91999999999996" stroke="#262626" stroke-width="1"/>
<text x="205.4" y="325.81999999999994" font-size="8.1" text-anchor="end" fill="#231f20" class="h">200</text>
<line x1="208.3" y1="340.49" x2="211.4" y2="340.49" stroke="#262626" stroke-width="1"/>
<text x="205.4" y="343.39" font-size="8.1" text-anchor="end" fill="#231f20" class="h">150</text>
<line x1="208.3" y1="358.06" x2="211.4" y2="358.06" stroke="#262626" stroke-width="1"/>
<text x="205.4" y="360.96" font-size="8.1" text-anchor="end" fill="#231f20" class="h">100</text>
<line x1="208.3" y1="375.63" x2="211.4" y2="375.63" stroke="#262626" stroke-width="1"/>
<text x="205.4" y="378.53" font-size="8.1" text-anchor="end" fill="#231f20" class="h">50</text>
<line x1="208.3" y1="393.2" x2="211.4" y2="393.2" stroke="#262626" stroke-width="1"/>
<text x="205.4" y="396.09999999999997" font-size="8.1" text-anchor="end" fill="#231f20" class="h">0</text>
<text class="h" x="220.7" y="272.8" font-size="8.4" textLength="25.400000000000006" lengthAdjust="spacingAndGlyphs" fill="#231f20"><tspan font-style="italic">P</tspan> = NS</text>
<line x1="220.7" y1="276.3" x2="246.1" y2="276.3" stroke="#5a5a5a" stroke-width="1.2"/>
<text class="h" x="269.2" y="272.8" font-size="8.4" textLength="24.30000000000001" lengthAdjust="spacingAndGlyphs" fill="#231f20"><tspan font-style="italic">P</tspan> &lt; .05</text>
<line x1="269.2" y1="276.3" x2="293.5" y2="276.3" stroke="#5a5a5a" stroke-width="1.2"/>
<line x1="225.3" y1="287.78" x2="225.3" y2="385.4692" stroke="#2a5590" stroke-width="0.9"/>
<line x1="221.8" y1="287.78" x2="228.8" y2="287.78" stroke="#2a5590" stroke-width="1"/>
<line x1="221.8" y1="385.4692" x2="228.8" y2="385.4692" stroke="#2a5590" stroke-width="1"/>
<rect x="219.0" y="325.3798" width="12.6" height="30.220399999999984" fill="#8e9cc8"/>
<line x1="219.0" y1="335.219" x2="231.60000000000002" y2="335.219" stroke="#2a5590" stroke-width="0.9"/>
<circle cx="225.30" cy="287.78" r="1.6" fill="#162a52"/>
<circle cx="225.30" cy="305.35" r="1.6" fill="#162a52"/>
<circle cx="225.30" cy="322.92" r="1.6" fill="#162a52"/>
<circle cx="225.30" cy="328.89" r="1.6" fill="#162a52"/>
<circle cx="225.30" cy="332.41" r="1.6" fill="#162a52"/>
<circle cx="219.30" cy="335.57" r="1.6" fill="#162a52"/>
<circle cx="222.40" cy="335.57" r="1.6" fill="#162a52"/>
<circle cx="225.30" cy="336.27" r="1.6" fill="#162a52"/>
<circle cx="228.50" cy="335.57" r="1.6" fill="#162a52"/>
<circle cx="231.00" cy="335.57" r="1.6" fill="#162a52"/>
<circle cx="225.30" cy="351.38" r="1.6" fill="#162a52"/>
<circle cx="225.30" cy="358.06" r="1.6" fill="#162a52"/>
<circle cx="225.30" cy="379.50" r="1.6" fill="#162a52"/>
<circle cx="225.30" cy="385.47" r="1.6" fill="#162a52"/>
<line x1="242.7" y1="287.78" x2="242.7" y2="373.873" stroke="#c0152f" stroke-width="0.9"/>
<line x1="239.2" y1="287.78" x2="246.2" y2="287.78" stroke="#c0152f" stroke-width="1"/>
<line x1="239.2" y1="373.873" x2="246.2" y2="373.873" stroke="#c0152f" stroke-width="1"/>
<rect x="236.25" y="287.78" width="12.9" height="52.00720000000001" fill="#f0a092"/>
<line x1="236.25" y1="305.35" x2="249.14999999999998" y2="305.35" stroke="#c0152f" stroke-width="0.9"/>
<circle cx="236.70" cy="287.78" r="1.6" fill="#9c0e2c"/>
<circle cx="239.70" cy="287.78" r="1.6" fill="#9c0e2c"/>
<circle cx="242.70" cy="287.78" r="1.6" fill="#9c0e2c"/>
<circle cx="245.70" cy="287.78" r="1.6" fill="#9c0e2c"/>
<circle cx="248.70" cy="287.78" r="1.6" fill="#9c0e2c"/>
<circle cx="242.70" cy="292.00" r="1.6" fill="#9c0e2c"/>
<circle cx="242.70" cy="305.35" r="1.6" fill="#9c0e2c"/>
<circle cx="241.00" cy="322.92" r="1.6" fill="#9c0e2c"/>
<circle cx="244.50" cy="322.22" r="1.6" fill="#9c0e2c"/>
<circle cx="241.50" cy="340.49" r="1.6" fill="#9c0e2c"/>
<circle cx="244.00" cy="340.49" r="1.6" fill="#9c0e2c"/>
<circle cx="242.70" cy="357.01" r="1.6" fill="#9c0e2c"/>
<circle cx="242.70" cy="373.87" r="1.6" fill="#9c0e2c"/>
<line x1="271" y1="287.78" x2="271" y2="389.686" stroke="#2a5590" stroke-width="0.9"/>
<line x1="267.5" y1="287.78" x2="274.5" y2="287.78" stroke="#2a5590" stroke-width="1"/>
<line x1="267.5" y1="389.686" x2="274.5" y2="389.686" stroke="#2a5590" stroke-width="1"/>
<rect x="265.15" y="326.43399999999997" width="11.7" height="48.844600000000014" fill="#8e9cc8"/>
<line x1="265.15" y1="350.68059999999997" x2="276.85" y2="350.68059999999997" stroke="#2a5590" stroke-width="0.9"/>
<circle cx="271.00" cy="287.78" r="1.6" fill="#162a52"/>
<circle cx="271.00" cy="308.86" r="1.6" fill="#162a52"/>
<circle cx="271.00" cy="324.33" r="1.6" fill="#162a52"/>
<circle cx="271.00" cy="328.54" r="1.6" fill="#162a52"/>
<circle cx="271.00" cy="345.41" r="1.6" fill="#162a52"/>
<circle cx="268.00" cy="349.63" r="1.6" fill="#162a52"/>
<circle cx="274.00" cy="351.38" r="1.6" fill="#162a52"/>
<circle cx="271.00" cy="358.06" r="1.6" fill="#162a52"/>
<circle cx="271.00" cy="367.55" r="1.6" fill="#162a52"/>
<circle cx="271.00" cy="379.14" r="1.6" fill="#162a52"/>
<circle cx="271.00" cy="386.17" r="1.6" fill="#162a52"/>
<circle cx="271.00" cy="389.69" r="1.6" fill="#162a52"/>
<line x1="288.5" y1="287.78" x2="288.5" y2="371.7646" stroke="#c0152f" stroke-width="0.9"/>
<line x1="285.0" y1="287.78" x2="292.0" y2="287.78" stroke="#c0152f" stroke-width="1"/>
<line x1="285.0" y1="371.7646" x2="292.0" y2="371.7646" stroke="#c0152f" stroke-width="1"/>
<rect x="281.85" y="287.78" width="13.3" height="50.25020000000001" fill="#f0a092"/>
<line x1="281.85" y1="324.3256" x2="295.15" y2="324.3256" stroke="#c0152f" stroke-width="0.9"/>
<circle cx="282.10" cy="287.78" r="1.6" fill="#9c0e2c"/>
<circle cx="285.30" cy="287.78" r="1.6" fill="#9c0e2c"/>
<circle cx="288.50" cy="287.78" r="1.6" fill="#9c0e2c"/>
<circle cx="291.70" cy="287.78" r="1.6" fill="#9c0e2c"/>
<circle cx="294.90" cy="287.78" r="1.6" fill="#9c0e2c"/>
<circle cx="288.50" cy="320.11" r="1.6" fill="#9c0e2c"/>
<circle cx="285.50" cy="324.33" r="1.6" fill="#9c0e2c"/>
<circle cx="291.50" cy="324.33" r="1.6" fill="#9c0e2c"/>
<circle cx="288.50" cy="328.19" r="1.6" fill="#9c0e2c"/>
<circle cx="288.50" cy="336.98" r="1.6" fill="#9c0e2c"/>
<circle cx="288.50" cy="341.19" r="1.6" fill="#9c0e2c"/>
<circle cx="288.50" cy="349.63" r="1.6" fill="#9c0e2c"/>
<circle cx="288.50" cy="371.76" r="1.6" fill="#9c0e2c"/>
<line x1="210.85" y1="393.2" x2="298.5" y2="393.2" stroke="#262626" stroke-width="1.1"/>
<line x1="225.4" y1="393.2" x2="225.4" y2="395.8" stroke="#262626" stroke-width="1"/>
<text x="225.4" y="405.7" font-size="7.4" text-anchor="middle" fill="#231f20" class="h">1</text>
<line x1="243" y1="393.2" x2="243" y2="395.8" stroke="#262626" stroke-width="1"/>
<text x="243" y="405.7" font-size="7.4" text-anchor="middle" fill="#231f20" class="h">1</text>
<line x1="270.7" y1="393.2" x2="270.7" y2="395.8" stroke="#262626" stroke-width="1"/>
<text x="270.7" y="405.7" font-size="7.4" text-anchor="middle" fill="#231f20" class="h">4</text>
<line x1="288.4" y1="393.2" x2="288.4" y2="395.8" stroke="#262626" stroke-width="1"/>
<text x="288.4" y="405.7" font-size="7.4" text-anchor="middle" fill="#231f20" class="h">4</text>
<text x="257.15" y="418.3" font-size="9.2" text-anchor="middle" textLength="67.49999999999997" lengthAdjust="spacingAndGlyphs" fill="#231f20" stroke="#231f20" stroke-width="0.25">Weeks post-reperfusion</text>
<circle cx="309.40" cy="273.60" r="2.85" fill="#1c4680"/>
<circle cx="309.40" cy="284.60" r="2.85" fill="#c2102e"/>
<text x="315.4" y="276.1" font-size="7.4" fill="#231f20" class="h">VWF<tspan dy="-2.8" font-size="5.4">+/+</tspan></text>
<text x="315.4" y="287.1" font-size="7.4" fill="#231f20" class="h">VWF<tspan dy="-2.8" font-size="5.4">&#8722;/&#8722;</tspan></text>
<text x="355.5" y="257.7" font-size="10.6" font-weight="bold" fill="#231f20" stroke="#231f20" stroke-width="0.45">F</text>
<text transform="translate(361.5,329.7) rotate(-90)" x="0" y="0" font-size="8.6" text-anchor="middle" textLength="49.5" lengthAdjust="spacingAndGlyphs" fill="#231f20" stroke="#231f20" stroke-width="0.25">Corner test index</text>
<line x1="385" y1="266.6" x2="385" y2="393.3" stroke="#262626" stroke-width="1.2"/>
<line x1="381.9" y1="281.0" x2="385" y2="281.0" stroke="#262626" stroke-width="1"/>
<text x="377.4" y="283.9" font-size="8.1" text-anchor="end" fill="#231f20" class="h">1.0</text>
<line x1="381.9" y1="301.4" x2="385" y2="301.4" stroke="#262626" stroke-width="1"/>
<text x="377.4" y="304.29999999999995" font-size="8.1" text-anchor="end" fill="#231f20" class="h">0.8</text>
<line x1="381.9" y1="321.8" x2="385" y2="321.8" stroke="#262626" stroke-width="1"/>
<text x="377.4" y="324.7" font-size="8.1" text-anchor="end" fill="#231f20" class="h">0.6</text>
<line x1="381.9" y1="342.2" x2="385" y2="342.2" stroke="#262626" stroke-width="1"/>
<text x="377.4" y="345.09999999999997" font-size="8.1" text-anchor="end" fill="#231f20" class="h">0.4</text>
<line x1="381.9" y1="362.6" x2="385" y2="362.6" stroke="#262626" stroke-width="1"/>
<text x="377.4" y="365.5" font-size="8.1" text-anchor="end" fill="#231f20" class="h">0.2</text>
<line x1="381.9" y1="383.0" x2="385" y2="383.0" stroke="#262626" stroke-width="1"/>
<text x="377.4" y="385.9" font-size="8.1" text-anchor="end" fill="#231f20" class="h">0.0</text>
<text class="h" x="394.6" y="266.8" font-size="8.4" textLength="23.899999999999977" lengthAdjust="spacingAndGlyphs" fill="#231f20"><tspan font-style="italic">P</tspan> &lt; .05</text>
<line x1="394.6" y1="270.2" x2="418.5" y2="270.2" stroke="#5a5a5a" stroke-width="1.2"/>
<text class="h" x="442" y="266.8" font-size="8.4" textLength="24" lengthAdjust="spacingAndGlyphs" fill="#231f20"><tspan font-style="italic">P</tspan> &lt; .05</text>
<line x1="442" y1="270.2" x2="466" y2="270.2" stroke="#5a5a5a" stroke-width="1.2"/>
<line x1="398.2" y1="281.0" x2="398.2" y2="342.2" stroke="#2a5590" stroke-width="0.9"/>
<line x1="394.7" y1="281.0" x2="401.7" y2="281.0" stroke="#2a5590" stroke-width="1"/>
<line x1="394.7" y1="342.2" x2="401.7" y2="342.2" stroke="#2a5590" stroke-width="1"/>
<rect x="391.7" y="281.0" width="13" height="19.379999999999995" fill="#8e9cc8"/>
<line x1="391.7" y1="281.0" x2="404.7" y2="281.0" stroke="#2a5590" stroke-width="0.9"/>
<circle cx="391.90" cy="281.00" r="1.6" fill="#162a52"/>
<circle cx="394.00" cy="281.00" r="1.6" fill="#162a52"/>
<circle cx="396.10" cy="281.00" r="1.6" fill="#162a52"/>
<circle cx="398.20" cy="281.00" r="1.6" fill="#162a52"/>
<circle cx="400.30" cy="281.00" r="1.6" fill="#162a52"/>
<circle cx="402.40" cy="281.00" r="1.6" fill="#162a52"/>
<circle cx="404.50" cy="281.00" r="1.6" fill="#162a52"/>
<circle cx="396.80" cy="301.40" r="1.6" fill="#162a52"/>
<circle cx="399.60" cy="301.40" r="1.6" fill="#162a52"/>
<circle cx="398.20" cy="342.20" r="1.6" fill="#162a52"/>
<line x1="415.4" y1="281.0" x2="415.4" y2="383.0" stroke="#c0152f" stroke-width="0.9"/>
<line x1="411.9" y1="281.0" x2="418.9" y2="281.0" stroke="#c0152f" stroke-width="1"/>
<line x1="411.9" y1="383.0" x2="418.9" y2="383.0" stroke="#c0152f" stroke-width="1"/>
<rect x="409.4" y="302.42" width="12" height="80.57999999999998" fill="#f0a092"/>
<line x1="409.4" y1="342.2" x2="421.4" y2="342.2" stroke="#c0152f" stroke-width="0.9"/>
<circle cx="413.65" cy="281.00" r="1.6" fill="#9c0e2c"/>
<circle cx="417.15" cy="281.00" r="1.6" fill="#9c0e2c"/>
<circle cx="411.90" cy="301.40" r="1.6" fill="#9c0e2c"/>
<circle cx="415.40" cy="301.40" r="1.6" fill="#9c0e2c"/>
<circle cx="418.90" cy="301.40" r="1.6" fill="#9c0e2c"/>
<circle cx="415.40" cy="321.80" r="1.6" fill="#9c0e2c"/>
<circle cx="412.90" cy="342.20" r="1.6" fill="#9c0e2c"/>
<circle cx="415.40" cy="342.20" r="1.6" fill="#9c0e2c"/>
<circle cx="417.90" cy="342.20" r="1.6" fill="#9c0e2c"/>
<circle cx="409.00" cy="383.00" r="1.6" fill="#9c0e2c"/>
<circle cx="412.20" cy="383.00" r="1.6" fill="#9c0e2c"/>
<circle cx="415.40" cy="383.00" r="1.6" fill="#9c0e2c"/>
<circle cx="418.60" cy="383.00" r="1.6" fill="#9c0e2c"/>
<circle cx="421.80" cy="383.00" r="1.6" fill="#9c0e2c"/>
<line x1="442.3" y1="281.0" x2="442.3" y2="383.0" stroke="#2a5590" stroke-width="0.9"/>
<line x1="438.8" y1="281.0" x2="445.8" y2="281.0" stroke="#2a5590" stroke-width="1"/>
<line x1="438.8" y1="383.0" x2="445.8" y2="383.0" stroke="#2a5590" stroke-width="1"/>
<rect x="435.8" y="281.0" width="13" height="70.38" fill="#8e9cc8"/>
<line x1="435.8" y1="301.4" x2="448.8" y2="301.4" stroke="#2a5590" stroke-width="0.9"/>
<circle cx="436.70" cy="281.00" r="1.6" fill="#162a52"/>
<circle cx="439.50" cy="281.00" r="1.6" fill="#162a52"/>
<circle cx="442.30" cy="281.00" r="1.6" fill="#162a52"/>
<circle cx="445.10" cy="281.00" r="1.6" fill="#162a52"/>
<circle cx="447.90" cy="281.00" r="1.6" fill="#162a52"/>
<circle cx="439.80" cy="301.40" r="1.6" fill="#162a52"/>
<circle cx="442.30" cy="301.40" r="1.6" fill="#162a52"/>
<circle cx="444.80" cy="301.40" r="1.6" fill="#162a52"/>
<circle cx="440.80" cy="321.80" r="1.6" fill="#162a52"/>
<circle cx="443.80" cy="321.80" r="1.6" fill="#162a52"/>
<circle cx="440.80" cy="362.60" r="1.6" fill="#162a52"/>
<circle cx="443.80" cy="362.60" r="1.6" fill="#162a52"/>
<circle cx="442.30" cy="383.00" r="1.6" fill="#162a52"/>
<line x1="462.8" y1="281.0" x2="462.8" y2="383.0" stroke="#c0152f" stroke-width="0.9"/>
<line x1="459.3" y1="281.0" x2="466.3" y2="281.0" stroke="#c0152f" stroke-width="1"/>
<line x1="459.3" y1="383.0" x2="466.3" y2="383.0" stroke="#c0152f" stroke-width="1"/>
<rect x="456.7" y="302.42" width="12.2" height="60.18000000000001" fill="#f0a092"/>
<line x1="456.7" y1="342.2" x2="468.90000000000003" y2="342.2" stroke="#c0152f" stroke-width="0.9"/>
<circle cx="461.05" cy="281.00" r="1.6" fill="#9c0e2c"/>
<circle cx="464.55" cy="281.00" r="1.6" fill="#9c0e2c"/>
<circle cx="461.05" cy="301.40" r="1.6" fill="#9c0e2c"/>
<circle cx="464.55" cy="301.40" r="1.6" fill="#9c0e2c"/>
<circle cx="462.80" cy="321.80" r="1.6" fill="#9c0e2c"/>
<circle cx="461.20" cy="342.20" r="1.6" fill="#9c0e2c"/>
<circle cx="464.40" cy="342.20" r="1.6" fill="#9c0e2c"/>
<circle cx="456.80" cy="362.60" r="1.6" fill="#9c0e2c"/>
<circle cx="459.80" cy="362.60" r="1.6" fill="#9c0e2c"/>
<circle cx="462.80" cy="362.60" r="1.6" fill="#9c0e2c"/>
<circle cx="465.80" cy="362.60" r="1.6" fill="#9c0e2c"/>
<circle cx="468.80" cy="362.60" r="1.6" fill="#9c0e2c"/>
<circle cx="461.05" cy="383.00" r="1.6" fill="#9c0e2c"/>
<circle cx="464.55" cy="383.00" r="1.6" fill="#9c0e2c"/>
<line x1="384.45" y1="393.3" x2="474.6" y2="393.3" stroke="#262626" stroke-width="1.1"/>
<line x1="397.9" y1="393.3" x2="397.9" y2="395.90000000000003" stroke="#262626" stroke-width="1"/>
<text x="397.9" y="406" font-size="7.4" text-anchor="middle" fill="#231f20" class="h">1</text>
<line x1="415.4" y1="393.3" x2="415.4" y2="395.90000000000003" stroke="#262626" stroke-width="1"/>
<text x="415.4" y="406" font-size="7.4" text-anchor="middle" fill="#231f20" class="h">1</text>
<line x1="442.3" y1="393.3" x2="442.3" y2="395.90000000000003" stroke="#262626" stroke-width="1"/>
<text x="442.3" y="406" font-size="7.4" text-anchor="middle" fill="#231f20" class="h">4</text>
<line x1="462.5" y1="393.3" x2="462.5" y2="395.90000000000003" stroke="#262626" stroke-width="1"/>
<text x="462.5" y="406" font-size="7.4" text-anchor="middle" fill="#231f20" class="h">4</text>
<text x="431.25" y="418.6" font-size="9.2" text-anchor="middle" textLength="67.89999999999998" lengthAdjust="spacingAndGlyphs" fill="#231f20" stroke="#231f20" stroke-width="0.25">Weeks post-reperfusion</text>
<circle cx="483.10" cy="273.50" r="2.85" fill="#1c4680"/>
<circle cx="483.10" cy="284.80" r="2.85" fill="#c2102e"/>
<text x="489.1" y="276.0" font-size="7.4" fill="#231f20" class="h">VWF<tspan dy="-2.8" font-size="5.4">+/+</tspan></text>
<text x="489.1" y="287.3" font-size="7.4" fill="#231f20" class="h">VWF<tspan dy="-2.8" font-size="5.4">&#8722;/&#8722;</tspan></text>
</svg></div></body></html>
